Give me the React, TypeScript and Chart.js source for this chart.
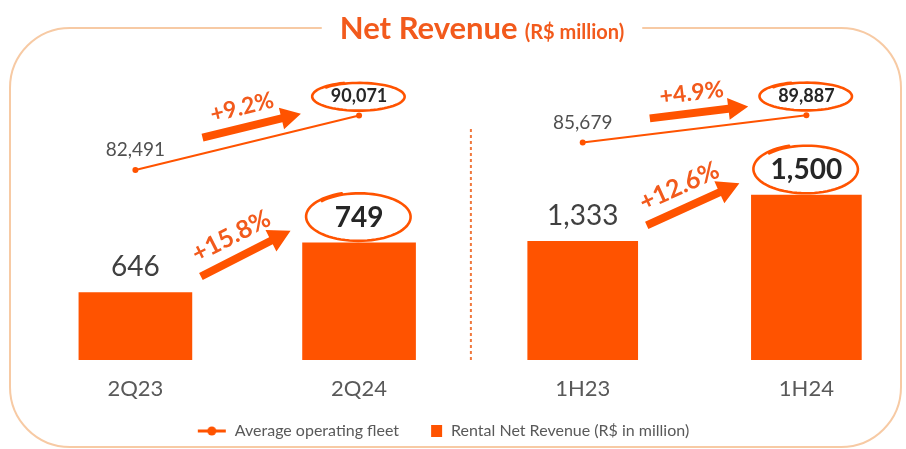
import React, { useEffect, useRef } from "react";
import { Chart, registerables } from "chart.js";

Chart.register(...registerables);

// ---- data ----
const categories = ["2Q23", "2Q24", "1H23", "1H24"];
const revenueQuarter = [646, 749];
const revenueHalf = [1333, 1500];
const fleetQuarter = [82491, 90071];
const fleetHalf = [85679, 89887];
const revenueGrowth = ["+15.8%", "+12.6%"];
const fleetGrowth = ["+9.2%", "+4.9%"];
const legendLabels = ["Average operating fleet", "Rental Net Revenue (R$ in million)"];
const titleMain = "Net Revenue";
const titleSub = "(R$ million)";

// ---- styles ----
const ORANGE = "#ff5300";
const TEXT_ORANGE = "#f25a1c";
const FONT = "Lato, 'Open Sans', sans-serif";
const fmt = (v: number) => v.toLocaleString("en-US");

function drawArrow(ctx: CanvasRenderingContext2D, x1: number, y1: number, x2: number, y2: number, shaft: number, headLen: number, headHalf: number) {
  const a = Math.atan2(y2 - y1, x2 - x1);
  const len = Math.hypot(x2 - x1, y2 - y1);
  ctx.save();
  ctx.translate(x1, y1);
  ctx.rotate(a);
  ctx.beginPath();
  ctx.moveTo(0, -shaft / 2);
  ctx.lineTo(len - headLen, -shaft / 2);
  ctx.lineTo(len - headLen, -headHalf);
  ctx.lineTo(len, 0);
  ctx.lineTo(len - headLen, headHalf);
  ctx.lineTo(len - headLen, shaft / 2);
  ctx.lineTo(0, shaft / 2);
  ctx.closePath();
  ctx.fill();
  ctx.restore();
}

function drawArrowLabel(ctx: CanvasRenderingContext2D, x1: number, y1: number, x2: number, y2: number, text: string, size: number, off: number) {
  const a = Math.atan2(y2 - y1, x2 - x1);
  ctx.save();
  ctx.translate((x1 + x2) / 2, (y1 + y2) / 2);
  ctx.rotate(a);
  ctx.font = `bold ${size}px ${FONT}`;
  ctx.textAlign = "center";
  ctx.textBaseline = "middle";
  ctx.fillText(text, -5, -off);
  ctx.restore();
}

function drawLoop(ctx: CanvasRenderingContext2D, cx: number, cy: number, rx: number, ry: number) {
  ctx.save();
  ctx.strokeStyle = ORANGE;
  ctx.lineWidth = 2.6;
  ctx.lineCap = "round";
  ctx.beginPath();
  const N = 80;
  const start = -2.4;
  const span = Math.PI * 2 + 0.5;
  for (let i = 0; i <= N; i++) {
    const t = start + (i / N) * span;
    const r = 1 + 0.06 * (i / N) - 0.03;
    const x = cx + rx * r * Math.cos(t);
    const y = cy + ry * r * Math.sin(t);
    if (i === 0) ctx.moveTo(x, y);
    else ctx.lineTo(x, y);
  }
  ctx.stroke();
  ctx.restore();
}

const decorPlugin = {
  id: "decor",
  beforeDraw(chart: any) {
    const ctx: CanvasRenderingContext2D = chart.ctx;
    ctx.save();
    ctx.fillStyle = "#ffffff";
    ctx.fillRect(0, 0, chart.width, chart.height);
    // rounded frame
    const x = 10, y = 28, w = 891, h = 419, r = 60;
    ctx.strokeStyle = "#f7caa4";
    ctx.lineWidth = 2;
    ctx.beginPath();
    ctx.moveTo(x + r, y);
    ctx.lineTo(x + w - r, y);
    ctx.arcTo(x + w, y, x + w, y + r, r);
    ctx.lineTo(x + w, y + h - r);
    ctx.arcTo(x + w, y + h, x + w - r, y + h, r);
    ctx.lineTo(x + r, y + h);
    ctx.arcTo(x, y + h, x, y + h - r, r);
    ctx.lineTo(x, y + r);
    ctx.arcTo(x, y, x + r, y, r);
    ctx.stroke();
    // title
    const mainFont = `bold 31px ${FONT}`;
    const subFont = `bold 20px ${FONT}`;
    ctx.font = mainFont;
    const w1 = ctx.measureText(titleMain).width;
    ctx.font = subFont;
    const w2 = ctx.measureText(titleSub).width;
    const gap = 7;
    const total = w1 + gap + w2;
    const cx = 482;
    const left = cx - total / 2;
    ctx.fillStyle = "#ffffff";
    ctx.fillRect(left - 18, 18, total + 36, 20);
    ctx.fillStyle = TEXT_ORANGE;
    ctx.textBaseline = "alphabetic";
    ctx.textAlign = "left";
    ctx.font = mainFont;
    ctx.fillText(titleMain, left, 39);
    ctx.font = subFont;
    ctx.fillText(titleSub, left + w1 + gap, 39);
    ctx.restore();
  },
  beforeDatasetsDraw(chart: any) {
    const ctx: CanvasRenderingContext2D = chart.ctx;
    const xs = chart.scales.x;
    const area = chart.chartArea;
    const dx = xs.getPixelForValue(1.5);
    ctx.save();
    ctx.strokeStyle = "#f0783c";
    ctx.lineWidth = 2;
    ctx.setLineDash([3, 3]);
    ctx.beginPath();
    ctx.moveTo(dx, area.top + (area.bottom - area.top) * 0.3);
    ctx.lineTo(dx, area.bottom);
    ctx.stroke();
    ctx.restore();
  },
  afterDatasetsDraw(chart: any) {
    const ctx: CanvasRenderingContext2D = chart.ctx;
    const barSets = [chart.getDatasetMeta(0).data, chart.getDatasetMeta(1).data];
    const barVals = [revenueQuarter, revenueHalf];
    const fleetSets = [chart.getDatasetMeta(2).data, chart.getDatasetMeta(3).data];
    const fleetVals = [fleetQuarter, fleetHalf];
    ctx.save();
    ctx.textAlign = "center";
    ctx.textBaseline = "middle";
    for (let p = 0; p < 2; p++) {
      const [b0, b1] = barSets[p];
      // bar values
      ctx.fillStyle = "#404040";
      ctx.font = `28px ${FONT}`;
      ctx.fillText(fmt(barVals[p][0]), b0.x, b0.y - 25);
      ctx.fillStyle = "#262626";
      ctx.font = `bold 28px ${FONT}`;
      ctx.fillText(fmt(barVals[p][1]), b1.x, b1.y - 25);
      drawLoop(ctx, b1.x, b1.y - 26, 52, 24);
      // bar growth arrow
      const tx = b0.x + b0.width / 2 + 9, ty = b0.y - 16;
      const hx = b1.x - b1.width / 2 - 12, hy = b1.y - 12;
      ctx.fillStyle = ORANGE;
      drawArrow(ctx, tx, ty, hx, hy, 8, 22, 12);
      ctx.fillStyle = TEXT_ORANGE;
      drawArrowLabel(ctx, tx, ty, hx, hy, revenueGrowth[p], 25, 22);

      // fleet labels
      const [f0, f1] = fleetSets[p];
      ctx.textAlign = "center";
      ctx.textBaseline = "middle";
      ctx.fillStyle = "#505050";
      ctx.font = `19px ${FONT}`;
      ctx.fillText(fmt(fleetVals[p][0]), f0.x, f0.y - 20);
      ctx.fillStyle = "#262626";
      ctx.font = `bold 18px ${FONT}`;
      ctx.fillText(fmt(fleetVals[p][1]), f1.x, f1.y - 19);
      drawLoop(ctx, f1.x, f1.y - 19, 46, 14);
      // fleet growth arrow
      const lerp = (t: number) => [f0.x + (f1.x - f0.x) * t, f0.y + (f1.y - f0.y) * t - 16];
      const [ax, ay] = lerp(0.3);
      const [bx, by] = lerp(0.74);
      ctx.fillStyle = ORANGE;
      drawArrow(ctx, ax, ay, bx, by, 8, 20, 11);
      ctx.fillStyle = TEXT_ORANGE;
      drawArrowLabel(ctx, ax, ay, bx, by, fleetGrowth[p], 23, 20);
    }
    ctx.restore();
  },
};

function makeFleetMarker() {
  const c = document.createElement("canvas");
  c.width = 30;
  c.height = 10;
  const g = c.getContext("2d")!;
  g.strokeStyle = ORANGE;
  g.lineWidth = 3;
  g.beginPath();
  g.moveTo(1, 5);
  g.lineTo(29, 5);
  g.stroke();
  g.fillStyle = ORANGE;
  g.beginPath();
  g.arc(15, 5, 4.5, 0, Math.PI * 2);
  g.fill();
  return c;
}

function makeBarMarker() {
  const c = document.createElement("canvas");
  c.width = 30;
  c.height = 12;
  const g = c.getContext("2d")!;
  g.fillStyle = ORANGE;
  g.fillRect(18, 0, 11, 12);
  return c;
}

export default function App() {
  const ref = useRef<HTMLCanvasElement>(null);
  useEffect(() => {
    document.body.style.margin = "0";
    const fleetMarker = makeFleetMarker();
    const barMarker = makeBarMarker();
    const chart = new Chart(ref.current!, {
      type: "bar",
      data: {
        datasets: [
          {
            type: "bar",
            label: legendLabels[1],
            data: revenueQuarter.map((v, i) => ({ x: i, y: v })),
            yAxisID: "yRevQ",
            backgroundColor: ORANGE,
            barThickness: 113,
            grouped: false,
            order: 2,
          } as any,
          {
            type: "bar",
            label: legendLabels[1],
            data: revenueHalf.map((v, i) => ({ x: i + 2, y: v })),
            yAxisID: "yRevH",
            backgroundColor: ORANGE,
            barThickness: 110,
            grouped: false,
            order: 2,
          } as any,
          {
            type: "line",
            label: legendLabels[0],
            data: fleetQuarter.map((v, i) => ({ x: i, y: v })),
            yAxisID: "yFleetQ",
            borderColor: ORANGE,
            backgroundColor: ORANGE,
            borderWidth: 2,
            pointRadius: 3,
            pointBorderWidth: 0,
            order: 1,
          } as any,
          {
            type: "line",
            label: legendLabels[0],
            data: fleetHalf.map((v, i) => ({ x: i + 2, y: v })),
            yAxisID: "yFleetH",
            borderColor: ORANGE,
            backgroundColor: ORANGE,
            borderWidth: 2,
            pointRadius: 3,
            pointBorderWidth: 0,
            order: 1,
          } as any,
        ],
      },
      options: {
        responsive: false,
        animation: false,
        devicePixelRatio: 1,
        layout: { padding: { top: 30, left: 0, right: 20, bottom: 0 } },
        plugins: {
          tooltip: { enabled: false },
          title: { display: false },
          legend: {
            position: "bottom",
            onClick: () => {},
            labels: {
              usePointStyle: true,
              pointStyleWidth: 30,
              boxHeight: 12,
              padding: 14,
              color: "#595959",
              font: { family: FONT, size: 16 },
              generateLabels: () => [
                { text: legendLabels[0], pointStyle: fleetMarker, fillStyle: ORANGE, strokeStyle: ORANGE, lineWidth: 0, hidden: false, datasetIndex: 2, fontColor: "#595959" },
                { text: legendLabels[1], pointStyle: barMarker, fillStyle: ORANGE, strokeStyle: ORANGE, lineWidth: 0, hidden: false, datasetIndex: 0, fontColor: "#595959" },
              ] as any,
            },
          },
        },
        scales: {
          x: {
            type: "linear",
            min: -0.5875,
            max: 3.356,
            offset: false,
            grid: { display: false, drawTicks: false },
            border: { display: false },
            ticks: {
              padding: 16,
              autoSkip: false,
              maxRotation: 0,
              color: "#595959",
              font: { family: FONT, size: 22 },
              callback: (v: any) => categories[v] ?? "",
            },
            afterBuildTicks: (s: any) => {
              s.ticks = categories.map((_, i) => ({ value: i }));
            },
            afterFit: (s: any) => {
              s.height = 49;
            },
          },
          yRevQ: { type: "linear", display: false, min: 506, max: 1190 },
          yRevH: { type: "linear", display: false, min: 905, max: 2096 },
          yFleetQ: { type: "linear", display: false, min: 56000, max: 102000 },
          yFleetH: { type: "linear", display: false, min: 52000, max: 103100 },
        } as any,
      },
      plugins: [decorPlugin as any],
    });
    return () => chart.destroy();
  }, []);
  return <canvas ref={ref} width={906} height={449} style={{ display: "block", width: 906, height: 449 }} />;
}
